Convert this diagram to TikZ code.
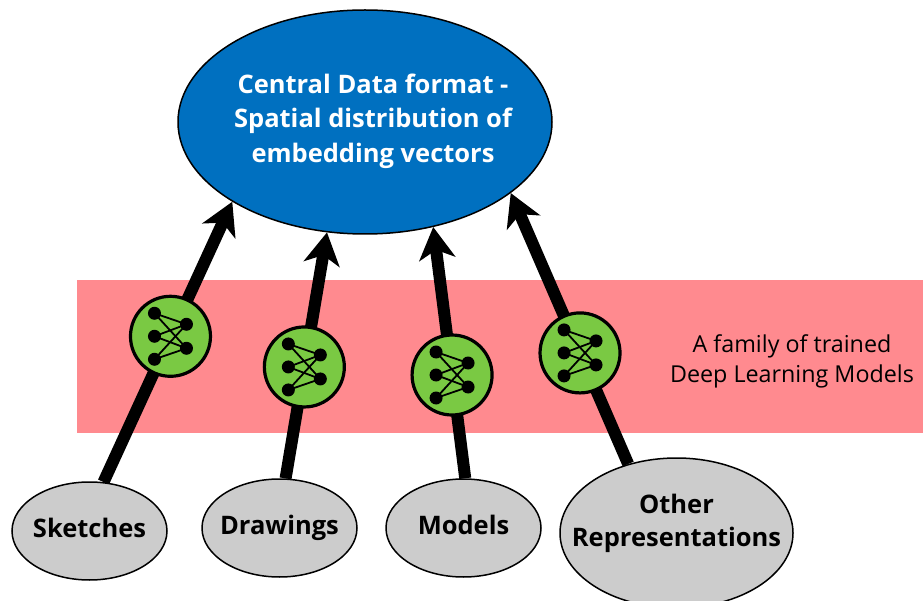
\documentclass[tikz,border=0pt]{standalone}
\usepackage{fontspec}
\setmainfont{Open Sans}
\usetikzlibrary{arrows.meta,shapes.geometric,backgrounds}
\definecolor{cblue}{HTML}{0070C0}
\definecolor{cpink}{HTML}{FF8A8F}
\definecolor{cgreen}{HTML}{7AC943}
\definecolor{cgray}{HTML}{CCCCCC}
\pgfdeclarelayer{bandlayer}
\pgfdeclarelayer{arrowlayer}
\pgfsetlayers{bandlayer,arrowlayer,main}
\newcommand{\mlines}[1]{\begin{tabular}{@{}c@{}}#1\end{tabular}}
\newcommand{\nowide}[1]{\makebox[0pt][c]{#1}}
\tikzset{
  centralbox/.style={ellipse, draw=black, line width=1.5pt, fill=cblue, inner sep=0pt,
    minimum width=374pt, minimum height=224pt, text=white,
    font=\fontsize{25.5}{34.5}\selectfont\bfseries},
  srcbase/.style={ellipse, draw=black, line width=1.5pt, fill=cgray, inner sep=0pt,
    font=\fontsize{25.5}{33}\selectfont\bfseries},
  srcbox/.style={srcbase, minimum width=155pt, minimum height=98pt,
    text height=20pt, text depth=0pt},
  bigsrcbox/.style={srcbase, minimum width=233pt, minimum height=150pt},
  netbox/.style={circle, draw=black, line width=3.2pt, fill=cgreen, inner sep=0pt,
    minimum size=80pt},
  flowarrow/.style={line width=12pt, -{Stealth[length=32pt, width=36pt, inset=9pt]}},
  bandbox/.style={rectangle, fill=cpink, draw=none, inner sep=0pt,
    minimum width=846pt, minimum height=153pt},
  bandtext/.style={inner sep=0pt, font=\fontsize{23.3}{30}\selectfont},
  netdot/.style={circle, fill=black, inner sep=0pt, minimum size=13pt},
  netico/.pic={
    \node[netdot] (-l1) at (-16,-23) {};
    \node[netdot] (-l2) at (-16,0) {};
    \node[netdot] (-l3) at (-16,23) {};
    \node[netdot] (-r1) at (16,-12) {};
    \node[netdot] (-r2) at (16,12) {};
    \foreach \a in {l1,l2,l3}{\foreach \b in {r1,r2}{
      \draw[line width=1.8pt] (-\a.center) -- (-\b.center);}}
  }
}
\begin{document}
\begin{tikzpicture}[x=1pt,y=-1pt]
\useasboundingbox (0,0) rectangle (923,601);
% band
\begin{pgfonlayer}{bandlayer}
\node[bandbox, anchor=north west] (band) at (77,280) {};
\end{pgfonlayer}
\node[bandtext] (bandlabel) at (792,361) {\mlines{A family of trained\\Deep Learning Models}};
% central
\node[centralbox] (central) at (365,122) {\nowide{\hspace*{16pt}\raisebox{1pt}[\height][\depth]{\mlines{Central Data format -\\Spatial distribution of\\embedding vectors}}}};
% sources
\node[srcbox] (sk) at (89.5,531) {\nowide{\raisebox{4pt}{Sketches}}};
\node[srcbox] (dr) at (279.5,528) {\nowide{\raisebox{4pt}{Drawings}}};
\node[srcbox] (mo) at (463.5,528) {\nowide{\raisebox{4pt}{Models}}};
\node[bigsrcbox] (ot) at (676.5,533) {\nowide{\raisebox{10pt}[\height][\depth]{\mlines{Other\\Representations}}}};
% nets on the arrow paths
\path (sk.74.6) -- node[netbox, pos=0.52] (n1) {} (central.211);
\path (dr.83.6) -- node[netbox, pos=0.453] (n2) {} (central.251);
\path (mo.88.2) -- node[netbox, pos=0.411] (n3) {} (central.303);
\path (ot.125.3) -- node[netbox, pos=0.41] (n4) {} (central.334);
\pic (i1) at (n1) {netico};
\pic (i2) at (n2) {netico};
\pic (i3) at (n3) {netico};
\pic (i4) at (n4) {netico};
% arrows
\begin{pgfonlayer}{arrowlayer}
\draw[flowarrow] (sk.74.6) -- (central.211);
\draw[flowarrow] (dr.83.6) -- (central.251);
\draw[flowarrow] (mo.88.2) -- (central.303);
\draw[flowarrow] (ot.125.3) -- (central.334);
\end{pgfonlayer}
\end{tikzpicture}
\end{document}
